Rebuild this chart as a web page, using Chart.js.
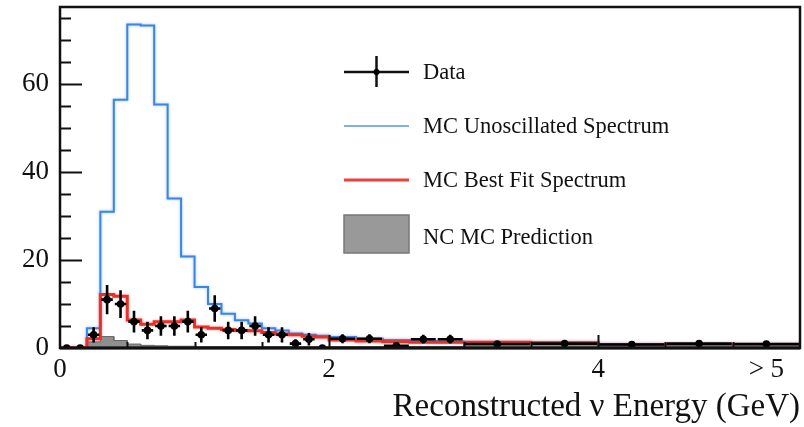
<!DOCTYPE html>
<html>
<head>
<meta charset="utf-8">
<script src="https://cdn.jsdelivr.net/npm/chart.js@4.4.1/dist/chart.umd.min.js"></script>
<style>
  html, body { margin: 0; padding: 0; background: #fff; }
  #wrap { width: 804px; height: 427px; position: relative; }
</style>
</head>
<body>
<div id="wrap"><canvas id="c"></canvas></div>
<script>
// Bin edges in reconstructed energy (GeV); last bin is the overflow (> 5 GeV)
const binEdges = [0, 0.1, 0.2, 0.3, 0.4, 0.5, 0.6, 0.7, 0.8, 0.9, 1.0,
                  1.1, 1.2, 1.3, 1.4, 1.5, 1.6, 1.7, 1.8, 1.9, 2.0,
                  2.2, 2.4, 2.6, 2.8, 3.0, 3.5, 4.0, 4.5, 5.0, 5.5];

// Events per bin
const unoscillated = [0, 0, 4.5, 31.0, 56.5, 73.6, 73.4, 55.4, 34.0, 20.8,
                      13.9, 10.0, 7.8, 6.3, 5.6, 4.5, 4.0, 3.3, 3.0, 2.8,
                      2.5, 2.1, 1.8, 1.6, 1.5, 1.3, 1.2, 0.8, 0.8, 0.8];
const bestFit = [0, 0, 2.1, 12.2, 11.8, 6.4, 5.4, 6.0, 6.0, 6.4,
                 4.8, 4.5, 4.2, 4.0, 3.9, 3.5, 3.2, 3.0, 2.7, 2.5,
                 1.8, 1.6, 1.4, 1.3, 1.3, 1.3, 1.2, 0.8, 0.8, 0.8];
const ncPrediction = [0, 0, 1.4, 2.6, 1.7, 0.9, 0.6, 0.5, 0.4, 0.4,
                      0.3, 0.3, 0.3, 0.3, 0.3, 0.3, 0.3, 0.3, 0.3, 0.3,
                      0.3, 0.3, 0.3, 0.3, 0.3, 1.1, 1.0, 0.7, 0.7, 0.7];
const dataCounts = [0, 0, 3, 11, 10, 6, 4, 5, 5, 6,
                    3, 9, 4, 4, 5, 3, 3, 1, 2, 0,
                    2.1, 2.1, 0.5, 2.0, 2.0, 0.9, 1.0, 0.8, 1.0, 0.9];

const xTickValues = [0, 2, 4, 5.25];
const xTickLabels = ['0', '2', '4', '> 5'];
const yTickValues = [0, 20, 40, 60];
const seriesNames = ['Data', 'MC Unoscillated Spectrum', 'MC Best Fit Spectrum', 'NC MC Prediction'];
const axisTitle = 'Reconstructed \u03BD Energy (GeV)';

const SERIF = "'Liberation Serif', 'Times New Roman', serif";

// Step outline of a histogram through its bin edges
function outline(values) {
  const pts = [];
  values.forEach((v, i) => {
    pts.push({ x: binEdges[i], y: v }, { x: binEdges[i + 1], y: v });
  });
  return pts;
}

// Statistical error bars on the data points (counts normalised per 0.1 GeV)
const errorBars = {
  id: 'errorBars',
  beforeDatasetDraw(chart, args) {
    if (args.index !== 0) return;
    const { ctx, scales: { x, y } } = chart;
    ctx.save();
    ctx.strokeStyle = '#000';
    ctx.lineWidth = 2.6;
    dataCounts.forEach((v, i) => {
      if (v <= 0) return;
      const lo = binEdges[i], hi = binEdges[i + 1];
      const k = (hi - lo) / 0.1;
      const e = Math.sqrt(v * k) / k;
      const cx = x.getPixelForValue((lo + hi) / 2);
      const cy = y.getPixelForValue(v);
      ctx.beginPath();
      ctx.moveTo(x.getPixelForValue(lo) + 1, cy);
      ctx.lineTo(x.getPixelForValue(hi) - 1, cy);
      ctx.moveTo(cx, y.getPixelForValue(v + e));
      ctx.lineTo(cx, y.getPixelForValue(Math.max(0, v - e)));
      ctx.stroke();
    });
    ctx.restore();
  }
};

// Soft glow on the MC spectra lines
const glow = {
  id: 'glow',
  beforeDatasetDraw(chart, args) {
    const ctx = chart.ctx;
    if (args.index === 1 || args.index === 2) {
      ctx.save();
      ctx.shadowColor = args.index === 2 ? 'rgba(90,150,235,0.6)' : 'rgba(240,90,90,0.5)';
      ctx.shadowBlur = 3;
    }
  },
  afterDatasetDraw(chart, args) {
    if (args.index === 1 || args.index === 2) chart.ctx.restore();
  }
};

// Plot frame with inward-pointing ticks
const frame = {
  id: 'frame',
  afterDatasetsDraw(chart) {
    const { ctx, chartArea: a, scales: { x, y } } = chart;
    ctx.save();
    ctx.strokeStyle = '#111';
    ctx.lineWidth = 2.5;
    ctx.strokeRect(a.left, a.top, a.right - a.left, a.bottom - a.top);
    ctx.lineWidth = 3;
    ctx.beginPath();
    ctx.moveTo(a.left, a.bottom);
    ctx.lineTo(a.right, a.bottom);
    ctx.stroke();
    ctx.lineWidth = 2;
    ctx.beginPath();
    for (let v = 5; v <= y.max; v += 5) {
      const py = Math.round(y.getPixelForValue(v)) + 0.5;
      const len = v % 20 === 0 ? 22 : 11;
      ctx.moveTo(a.left, py);
      ctx.lineTo(a.left + len, py);
    }
    for (let v = 0.5; v < x.max; v += 0.5) {
      const px = Math.round(x.getPixelForValue(v)) + 0.5;
      const len = Math.abs(v % 2) < 1e-9 ? 13 : 6;
      ctx.moveTo(px, a.bottom);
      ctx.lineTo(px, a.bottom - len);
    }
    ctx.stroke();
    ctx.restore();
  }
};

// Legend drawn inside the plot
const legendBox = {
  id: 'legendBox',
  afterDraw(chart) {
    const ctx = chart.ctx;
    const x0 = 344, x1 = 409, tx = 423;
    ctx.save();
    // Data marker
    ctx.strokeStyle = '#111';
    ctx.lineWidth = 2.5;
    ctx.beginPath();
    ctx.moveTo(x0, 72); ctx.lineTo(x1, 72);
    ctx.moveTo(376.5, 56); ctx.lineTo(376.5, 87);
    ctx.stroke();
    ctx.fillStyle = '#000';
    ctx.beginPath(); ctx.arc(376.5, 72, 3, 0, Math.PI * 2); ctx.fill();
    // Unoscillated line
    ctx.strokeStyle = '#7fb0ee';
    ctx.lineWidth = 2;
    ctx.beginPath(); ctx.moveTo(x0, 126); ctx.lineTo(x1, 126); ctx.stroke();
    // Best fit line
    ctx.strokeStyle = '#ee4040';
    ctx.lineWidth = 3;
    ctx.beginPath(); ctx.moveTo(x0, 180); ctx.lineTo(x1, 180); ctx.stroke();
    // NC box
    ctx.fillStyle = '#999';
    ctx.fillRect(x0, 215, x1 - x0, 38);
    ctx.strokeStyle = '#777';
    ctx.lineWidth = 1.5;
    ctx.strokeRect(x0, 215, x1 - x0, 38);
    // Labels
    ctx.fillStyle = '#111';
    ctx.font = '22.5px ' + SERIF;
    ctx.textBaseline = 'alphabetic';
    ctx.textAlign = 'left';
    const baselines = [79, 133, 187, 244];
    seriesNames.forEach((name, i) => ctx.fillText(name, tx, baselines[i]));
    ctx.restore();
  }
};

new Chart(document.getElementById('c'), {
  type: 'scatter',
  data: {
    datasets: [
      {
        label: seriesNames[0],
        data: dataCounts.map((v, i) => ({ x: (binEdges[i] + binEdges[i + 1]) / 2, y: v })),
        pointRadius: 3.8,
        pointBackgroundColor: '#000',
        pointBorderWidth: 0,
        showLine: false,
        order: 0
      },
      {
        label: seriesNames[2],
        data: outline(bestFit),
        showLine: true,
        borderColor: '#e8302a',
        borderWidth: 3,
        borderJoinStyle: 'miter',
        pointRadius: 0,
        fill: false,
        order: 1
      },
      {
        label: seriesNames[1],
        data: outline(unoscillated),
        showLine: true,
        borderColor: '#3a86e0',
        borderWidth: 2,
        borderJoinStyle: 'miter',
        pointRadius: 0,
        fill: false,
        order: 2
      },
      {
        label: seriesNames[3],
        data: outline(ncPrediction),
        showLine: true,
        borderColor: '#666',
        borderWidth: 1,
        backgroundColor: '#8f8f8f',
        pointRadius: 0,
        fill: 'origin',
        order: 3
      }
    ]
  },
  options: {
    animation: false,
    responsive: true,
    maintainAspectRatio: false,
    layout: { padding: { top: 7, right: 2, left: 0, bottom: 0 } },
    plugins: { legend: { display: false }, tooltip: { enabled: false } },
    scales: {
      x: {
        type: 'linear',
        min: 0,
        max: 5.5,
        grid: { display: false, drawTicks: false },
        border: { display: false },
        afterBuildTicks: s => { s.ticks = xTickValues.map(v => ({ value: v })); },
        afterFit: s => { s.height = 79; s.paddingLeft = 0; s.paddingRight = 0; },
        ticks: {
          autoSkip: false,
          maxRotation: 0,
          padding: 6,
          color: '#111',
          font: { family: SERIF, size: 27 },
          callback: (v, i) => xTickLabels[i]
        },
        title: {
          display: true,
          text: axisTitle,
          align: 'end',
          color: '#111',
          font: { family: SERIF, size: 33 },
          padding: { top: 0, bottom: 0 }
        }
      },
      y: {
        type: 'linear',
        min: 0,
        max: 77.6,
        grid: { display: false, drawTicks: false },
        border: { display: false },
        afterBuildTicks: s => { s.ticks = yTickValues.map(v => ({ value: v })); },
        afterFit: s => { s.width = 60; s.paddingTop = 0; s.paddingBottom = 0; },
        ticks: {
          padding: 11,
          color: '#111',
          font: { family: SERIF, size: 27 },
          callback: (v, i) => String(yTickValues[i])
        }
      }
    }
  },
  plugins: [errorBars, glow, frame, legendBox]
});
</script>
</body>
</html>
